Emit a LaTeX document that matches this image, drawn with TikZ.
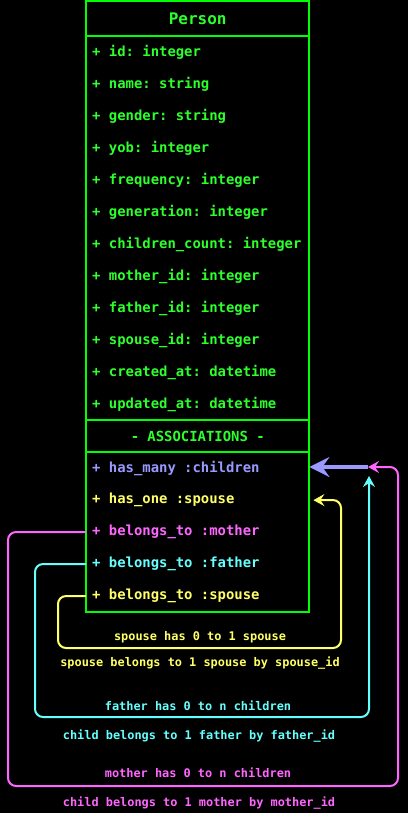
\documentclass[tikz,border=0pt]{standalone}
\usepackage{fontspec}
\setmonofont{DejaVu Sans Mono}[WordSpace={1,0,0}]
\usetikzlibrary{arrows.meta}
\definecolor{umlgreen}{RGB}{0,255,0}
\definecolor{attrgreen}{RGB}{45,255,45}
\definecolor{assocblue}{RGB}{153,153,255}
\definecolor{assocyellow}{RGB}{255,255,102}
\definecolor{assocpink}{RGB}{255,102,255}
\definecolor{assoccyan}{RGB}{102,255,255}

\begin{document}
\begin{tikzpicture}[x=1pt,y=-1pt,
  row/.style={minimum width=223pt, minimum height=32pt, text width=211pt,
    inner xsep=6pt, inner ysep=0pt, align=left, anchor=north west,
    execute at begin node={\spaceskip=0pt\relax\xspaceskip=0pt\relax},
    font=\ttfamily\bfseries\fontsize{13.9}{16}\selectfont, text=attrgreen},
  headrow/.style={row, align=center},
  boxline/.style={draw=umlgreen, line width=2pt},
  edge/.style={line width=2pt, rounded corners=8pt},
  tipsmall/.style={-{Stealth[length=11pt, width=12pt, inset=4pt]}},
  lbl/.style={font=\ttfamily\bfseries\fontsize{11.9}{14}\selectfont, inner sep=0pt},
]
% canvas
\fill[black] (0,0) rectangle (408,813);
\useasboundingbox (0,0) rectangle (408,813);

% class header
\node[headrow, minimum height=35pt, font=\ttfamily\bfseries\fontsize{16}{18}\selectfont] (title) at (86,1) {Person};

% attributes
\node[row] (id)  at (86,36)  {+ id: integer};
\node[row] (nm)  at (86,68)  {+ name: string};
\node[row] (gd)  at (86,100) {+ gender: string};
\node[row] (yob) at (86,132) {+ yob: integer};
\node[row] (fq)  at (86,164) {+ frequency: integer};
\node[row] (gn)  at (86,196) {+ generation: integer};
\node[row] (cc)  at (86,228) {+ children\_count: integer};
\node[row] (mid) at (86,260) {+ mother\_id: integer};
\node[row] (fid) at (86,292) {+ father\_id: integer};
\node[row] (sid) at (86,324) {+ spouse\_id: integer};
\node[row] (cat) at (86,356) {+ created\_at: datetime};
\node[row] (uat) at (86,388) {+ updated\_at: datetime};

% associations
\node[headrow] (assoc) at (86,420) {- ASSOCIATIONS -};
\node[row, text=assocblue]   (a1) at (86,452) {+ has\_many :children};
\node[row, text=assocyellow] (a2) at (86,484) {+ has\_one :spouse};
\node[row, text=assocpink]   (a3) at (86,516) {+ belongs\_to :mother};
\node[row, text=assoccyan]   (a4) at (86,548) {+ belongs\_to :father};
\node[row, text=assocyellow] (a5) at (86,580) {+ belongs\_to :spouse};

% class frame and compartments
\draw[boxline] (title.north west) rectangle (a5.south east);
\draw[boxline] (title.south west) -- (title.south east);
\draw[boxline] (assoc.north west) -- (assoc.north east);
\draw[boxline] (assoc.south west) -- (assoc.south east);

% junction where mother and father links meet the children association
\coordinate (hub) at (368,467);
\coordinate (fatherTip) at (369,476);
\draw[assocblue, line width=4pt, -{Stealth[length=20pt, width=20pt, inset=7pt]}] (hub) -- (a1.east |- hub);

% mother link
\draw[assocpink, edge, tipsmall]
  (a3.west) -- (8,532) -- (8,786) -- (398,786) -- (398,467) -- (hub);
% father link
\draw[assoccyan, edge, tipsmall]
  (a4.west) -- (35,564) -- (35,717) -- (369,717) -- (fatherTip);
% spouse link
\draw[assocyellow, edge, shorten >=4pt, tipsmall]
  (a5.west) -- (58,596) -- (58,648) -- (341,648) -- (341,500) -- (a2.east);

% link labels
\node[lbl, text=assocyellow] (spHas)  at (200,637) {spouse has 0 to 1 spouse};
\node[lbl, text=assocyellow] (spBel)  at (200,663) {spouse belongs to 1 spouse by spouse\_id};
\node[lbl, text=assoccyan]   (faHas)  at (198,706) {father has 0 to n children};
\node[lbl, text=assoccyan]   (faBel)  at (199,736) {child belongs to 1 father by father\_id};
\node[lbl, text=assocpink]   (moHas)  at (198,773) {mother has 0 to n children};
\node[lbl, text=assocpink]   (moBel)  at (199,803) {child belongs to 1 mother by mother\_id};
\end{tikzpicture}
\end{document}
